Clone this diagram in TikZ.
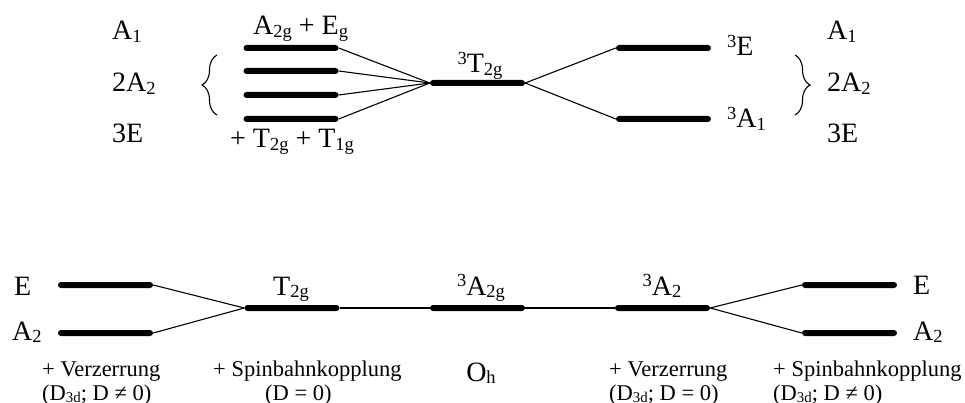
\documentclass[tikz,border=0pt]{standalone}
\usepackage{fontspec}
\setmainfont{Liberation Serif}
\usetikzlibrary{positioning,decorations.pathreplacing}

\newcommand{\lsub}[1]{\raisebox{-0.1em}{\scalebox{0.66}{#1}}}
\newcommand{\lsup}[1]{\raisebox{0.3em}{\scalebox{0.66}{#1}}}

\tikzset{
  lev/.style={fill=black, rounded corners=3pt, minimum width=95pt, minimum height=6pt, inner sep=0pt},
  lbl/.style={inner sep=0pt, font=\fontsize{28}{30}\selectfont},
  note/.style={inner sep=0pt, font=\fontsize{22.5}{25}\selectfont},
  conn/.style={line width=1.1pt},
  brc/.style={decorate, decoration={brace, amplitude=15pt}, line width=1.1pt}
}

\begin{document}
\begin{tikzpicture}[x=1pt, y=-1pt]
  \useasboundingbox (0,0) rectangle (965,403);

  % upper scheme
  \node[lev] (ua) at (291,48) {};
  \node[lev] (ub) at (291,71) {};
  \node[lev] (uc) at (291,95) {};
  \node[lev] (ud) at (291,119) {};
  \node[lev] (ut) at (477.5,83) {};
  \node[lev] (ue) at (663.5,48) {};
  \node[lev] (uf) at (663.5,119) {};
  \foreach \l in {ua,ub,uc,ud}
    \draw[conn] (\l.east) -- (ut.west);
  \draw[conn] (ut.east) -- (ue.west);
  \draw[conn] (ut.east) -- (uf.west);

  \node[lbl, anchor=base west] (lA1) at (112,40) {A\lsub{1}};
  \node[lbl, anchor=base west] (lA2) at (112,92) {2A\lsub{2}};
  \node[lbl, anchor=base west] (lE) at (112,143) {3E};
  \node[lbl, anchor=base west] (rA1) at (827,40) {A\lsub{1}};
  \node[lbl, anchor=base west] (rA2) at (827,92) {2A\lsub{2}};
  \node[lbl, anchor=base west] (rE) at (827,143) {3E};
  \draw[brc] (217,115) -- (217,55);
  \draw[brc] (795,55) -- (795,115);

  \node[lbl, anchor=base west] (uatxt) at (253,35) {A\lsub{2g} + E\lsub{g}};
  \node[lbl, anchor=base west] (udtxt) at (230,148) {+ T\lsub{2g} + T\lsub{1g}};
  \node[lbl, anchor=base] (uttxt) at (480,73) {\lsup{3}T\lsub{2g}};
  \node[lbl, anchor=base west] (uetxt) at (727,56) {\lsup{3}E};
  \node[lbl, anchor=base west] (uftxt) at (727,128) {\lsup{3}A\lsub{1}};

  % lower scheme
  \node[lev] (la) at (105.5,285) {};
  \node[lev] (lb) at (105.5,333) {};
  \node[lev] (lt) at (292,308) {};
  \node[lev] (lo) at (477.5,308) {};
  \node[lev] (ld) at (662.5,308) {};
  \node[lev] (lc) at (849.5,285) {};
  \node[lev] (le) at (849.5,333) {};
  \draw[conn] (la.east) -- (lt.west);
  \draw[conn] (lb.east) -- (lt.west);
  \draw[conn] (lt.east) -- (lo.west);
  \draw[conn] (lo.east) -- (ld.west);
  \draw[conn] (ld.east) -- (lc.west);
  \draw[conn] (ld.east) -- (le.west);

  \node[lbl, anchor=base west] (latxt) at (14,295) {E};
  \node[lbl, anchor=base west] (lbtxt) at (12,340) {A\lsub{2}};
  \node[lbl, anchor=base] (lttxt) at (291,295) {T\lsub{2g}};
  \node[lbl, anchor=base] (lotxt) at (481,295) {\lsup{3}A\lsub{2g}};
  \node[lbl, anchor=base] (ldtxt) at (662,295) {\lsup{3}A\lsub{2}};
  \node[lbl, anchor=base west] (lctxt) at (913,294) {E};
  \node[lbl, anchor=base west] (letxt) at (913,340) {A\lsub{2}};
  \node[lbl, anchor=base] (oh) at (481,381) {O\lsub{h}};

  \node[note, anchor=base west] (n1) at (42,376) {+ Verzerrung};
  \node[note, anchor=base west] (n1b) at (42,400) {(D\lsub{3d}; D ≠ 0)};
  \node[note, anchor=base west] (n2) at (213,376) {+ Spinbahnkopplung};
  \node[note, anchor=base west] (n2b) at (265,400) {(D = 0)};
  \node[note, anchor=base west] (n3) at (609,376) {+ Verzerrung};
  \node[note, anchor=base west] (n3b) at (609,400) {(D\lsub{3d}; D = 0)};
  \node[note, anchor=base west] (n4) at (773,376) {+ Spinbahnkopplung};
  \node[note, anchor=base west] (n4b) at (773,400) {(D\lsub{3d}; D ≠ 0)};
\end{tikzpicture}
\end{document}
